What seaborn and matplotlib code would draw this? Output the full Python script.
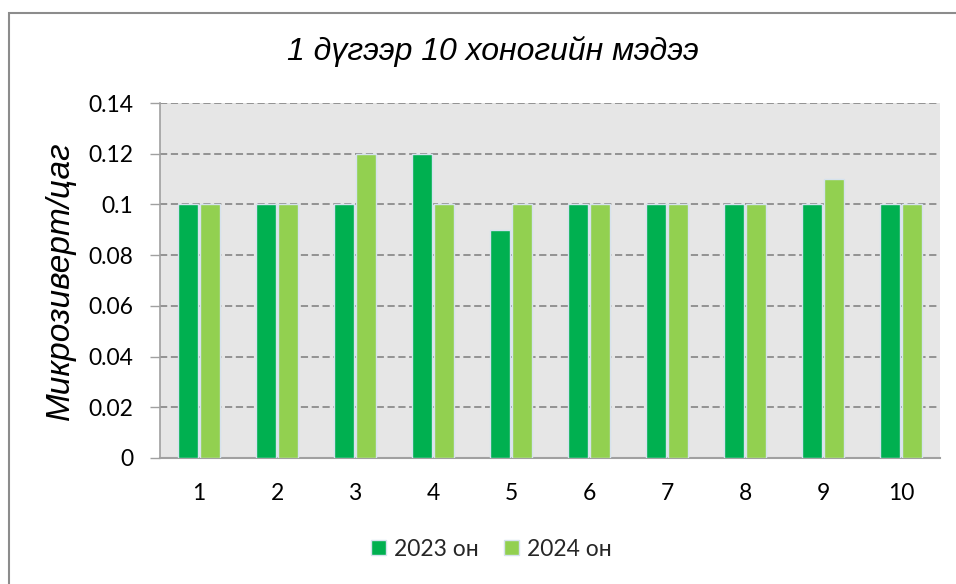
import matplotlib
matplotlib.use("Agg")
import matplotlib.pyplot as plt
import seaborn as sns
import pandas as pd
from matplotlib.patches import Rectangle

categories = ["1", "2", "3", "4", "5", "6", "7", "8", "9", "10"]
series_names = ["2023 он", "2024 он"]
values_2023 = [0.10, 0.10, 0.10, 0.12, 0.09, 0.10, 0.10, 0.10, 0.10, 0.10]
values_2024 = [0.10, 0.10, 0.12, 0.10, 0.10, 0.10, 0.10, 0.10, 0.11, 0.10]
yticks = [0, 0.02, 0.04, 0.06, 0.08, 0.1, 0.12, 0.14]
ytick_labels = ["0", "0.02", "0.04", "0.06", "0.08", "0.1", "0.12", "0.14"]
colors = ["#00B050", "#92D050"]

df = pd.DataFrame({
    "cat": categories * 2,
    "year": [series_names[0]] * len(categories) + [series_names[1]] * len(categories),
    "val": values_2023 + values_2024,
})

sns.set_theme(style="white")
plt.rcParams["font.family"] = ["Lato", "DejaVu Sans"]

fig = plt.figure(figsize=(9.56, 5.84), dpi=100)
ax = fig.add_axes([160 / 956, 1 - 458 / 584, 780 / 956, 355 / 584])
ax.set_facecolor("#E6E6E6")

sns.barplot(data=df, x="cat", y="val", hue="year", palette=colors, ax=ax,
            width=0.55, gap=0.05, edgecolor="#D6E2EE", linewidth=1.0,
            saturation=1, legend=True, zorder=3)

ax.set_ylim(0, 0.14)
ax.set_yticks(yticks)
ax.set_yticklabels(ytick_labels)
ax.set_xlim(-0.5, len(categories) - 0.5)
ax.yaxis.grid(True, linestyle=(0, (4, 2)), color="#8C8C8C", linewidth=1.3, zorder=0)
ax.set_axisbelow(True)
ax.xaxis.grid(False)

for s in ["top", "right"]:
    ax.spines[s].set_visible(False)
ax.spines["left"].set_color("#A0A0A0")
ax.spines["left"].set_linewidth(1.2)
ax.spines["bottom"].set_color("#A0A0A0")
ax.spines["bottom"].set_linewidth(1.5)

ax.tick_params(axis="y", which="both", left=True, length=7, width=1.0, color="#A0A0A0",
               labelsize=16.5, pad=12, labelcolor="black")
ax.tick_params(axis="x", bottom=False, labelsize=16.5, pad=12, labelcolor="black")
ax.set_xlabel("")
ax.set_ylabel("Микрозиверт/цаг", fontsize=24, style="italic",
              family=["Liberation Sans", "DejaVu Sans"], color="black")
ax.yaxis.set_label_coords((76 - 160) / 780, 0.5)

fig.text(493 / 956, 1 - 52 / 584, "1 дүгээр 10 хоногийн мэдээ", fontsize=23,
         style="italic", family=["Liberation Sans", "DejaVu Sans"],
         ha="center", va="center", color="black")

leg = ax.legend(loc="center", bbox_to_anchor=(491 / 956, 1 - 549 / 584),
                bbox_transform=fig.transFigure, ncol=2, frameon=False,
                fontsize=16.5, handlelength=0.65, handleheight=0.65,
                handletextpad=0.35, columnspacing=1.1)

fig.patches.append(Rectangle((9 / 956, -0.1), 2.0, 1 - 13 / 584 + 0.1,
                             transform=fig.transFigure, fill=False,
                             edgecolor="#8C8C8C", linewidth=1.5, zorder=0))

fig.savefig("out.png", dpi=100)
